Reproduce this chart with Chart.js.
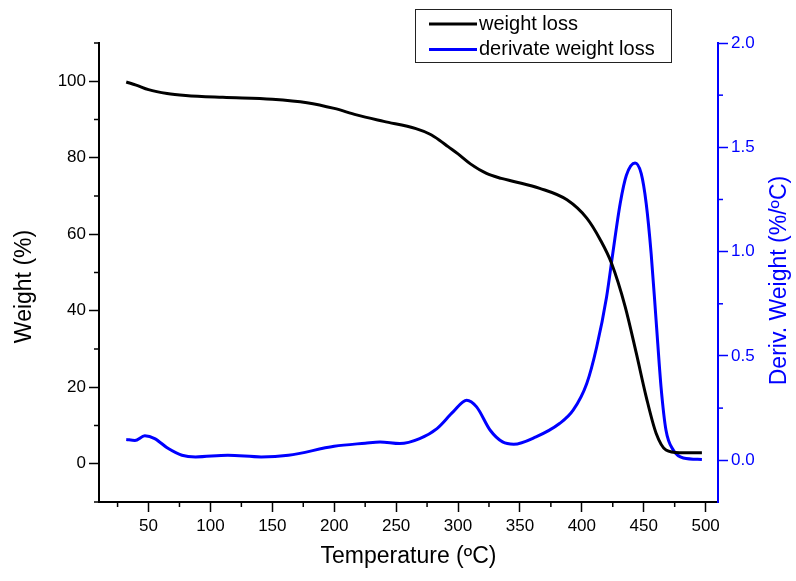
<!DOCTYPE html>
<html>
<head>
<meta charset="utf-8">
<style>
  body { margin: 0; background: #fff; }
  canvas { display: block; }
</style>
</head>
<body>
<canvas id="tgaChart" width="796" height="581"></canvas>
<script src="https://cdn.jsdelivr.net/npm/chart.js"></script>
<script>
    // weight loss curve (black, left axis)
    const tempW = [32, 40, 50, 65, 80, 110, 150, 178, 200, 218, 240, 266, 277, 285, 292, 300, 310, 323, 335, 345, 366, 388, 404, 415, 424, 435, 444, 452, 460, 468, 479, 497];
    const weight = [99.8, 99.0, 97.8, 96.8, 96.3, 95.8, 95.3, 94.4, 92.9, 91.2, 89.5, 87.6, 86.2, 84.6, 82.9, 81.0, 78.4, 75.9, 74.6, 73.8, 72.0, 69.0, 64.2, 58.5, 52.4, 41.1, 28.9, 17.5, 8.0, 3.6, 2.9, 2.9];

    // derivative curve (blue, right axis)
    const tempD = [32, 39, 47, 55, 66, 77, 88, 114, 141, 163, 200, 225, 237, 253, 269, 283, 296, 307, 315, 326, 336, 345, 363, 382, 393, 404, 412, 420, 425, 431, 436, 443, 448, 452, 456, 460, 464, 468, 474, 482, 497];
    const deriv = [0.10, 0.095, 0.117, 0.104, 0.056, 0.024, 0.016, 0.024, 0.016, 0.024, 0.067, 0.082, 0.088, 0.080, 0.104, 0.152, 0.232, 0.288, 0.256, 0.144, 0.088, 0.077, 0.112, 0.176, 0.240, 0.368, 0.543, 0.783, 0.991, 1.231, 1.366, 1.425, 1.374, 1.231, 0.991, 0.671, 0.351, 0.144, 0.048, 0.011, 0.004];

    const xTicks = [50, 100, 150, 200, 250, 300, 350, 400, 450, 500];
    const xMinor = [25, 75, 125, 175, 225, 275, 325, 375, 425, 475];
    const yTicks = [0, 20, 40, 60, 80, 100];
    const yMinor = [-10, 10, 30, 50, 70, 90, 110];
    const y2Ticks = [0, 0.5, 1.0, 1.5, 2.0];
    const y2Minor = [0.25, 0.75, 1.25, 1.75];

    const FONT = "'Liberation Sans', Arial, sans-serif";
    const BLUE = '#0000ff';

    const setTicks = vals => scale => { scale.ticks = vals.map(v => ({ value: v })); };

    // minor ticks + rotated y titles + legend box
    const extras = {
        id: 'extras',
        afterDraw(chart) {
            const c = chart.ctx;
            const a = chart.chartArea;
            const s = chart.scales;
            c.save();
            c.lineWidth = 1.5;
            c.strokeStyle = '#000';
            xMinor.forEach(v => {
                const px = s.x.getPixelForValue(v);
                c.beginPath(); c.moveTo(px, a.bottom); c.lineTo(px, a.bottom + 5); c.stroke();
            });
            yMinor.forEach(v => {
                const py = s.y.getPixelForValue(v);
                c.beginPath(); c.moveTo(a.left, py); c.lineTo(a.left - 5, py); c.stroke();
            });
            c.strokeStyle = BLUE;
            y2Minor.forEach(v => {
                const py = s.y2.getPixelForValue(v);
                c.beginPath(); c.moveTo(a.right, py); c.lineTo(a.right + 5, py); c.stroke();
            });

            // axis titles on the sides, both reading bottom to top
            const cy = (a.top + a.bottom) / 2 + 12;
            c.font = '23px ' + FONT;
            c.textAlign = 'center';
            c.textBaseline = 'middle';
            c.fillStyle = '#000';
            c.save(); c.translate(25, cy + 2); c.rotate(-Math.PI / 2); c.fillText('Weight (%)', 0, 0); c.restore();
            c.fillStyle = BLUE;
            c.save(); c.translate(780, cy - 4); c.rotate(-Math.PI / 2); c.fillText('Deriv. Weight (%/ºC)', 0, 0); c.restore();

            // legend
            c.fillStyle = '#fff';
            c.fillRect(415, 9, 257, 54);
            c.strokeStyle = '#222';
            c.lineWidth = 1;
            c.strokeRect(415.5, 9.5, 256, 53);
            c.font = '20px ' + FONT;
            c.textAlign = 'left';
            chart.data.datasets.forEach((ds, i) => {
                const ly = 24 + i * 25.5;
                c.strokeStyle = ds.borderColor;
                c.lineWidth = 3;
                c.beginPath(); c.moveTo(429, ly); c.lineTo(477, ly); c.stroke();
                c.fillStyle = '#000';
                c.fillText(ds.label, 479, ly);
            });
            c.restore();
        }
    };

    new Chart(document.getElementById('tgaChart'), {
        type: 'line',
        data: {
            datasets: [{
                label: 'weight loss',
                data: tempW.map((t, i) => ({ x: t, y: weight[i] })),
                borderColor: '#000',
                borderWidth: 3,
                pointRadius: 0,
                cubicInterpolationMode: 'monotone',
                yAxisID: 'y'
            }, {
                label: 'derivate weight loss',
                data: tempD.map((t, i) => ({ x: t, y: deriv[i] })),
                borderColor: BLUE,
                borderWidth: 3,
                pointRadius: 0,
                cubicInterpolationMode: 'monotone',
                yAxisID: 'y2'
            }]
        },
        options: {
            responsive: false,
            animation: false,
            layout: { padding: { top: 43, left: 0, right: 0, bottom: 0 } },
            plugins: { legend: { display: false }, tooltip: { enabled: false } },
            scales: {
                x: {
                    type: 'linear',
                    min: 10,
                    max: 510,
                    afterBuildTicks: setTicks(xTicks),
                    afterFit: s => { s.height = 79; },
                    grid: { drawOnChartArea: false, tickLength: 10, tickColor: '#000', tickWidth: 1.5 },
                    border: { color: '#000', width: 2 },
                    ticks: { autoSkip: false, maxRotation: 0, padding: 4, color: '#000', font: { family: FONT, size: 17 } },
                    title: { display: true, text: 'Temperature (ºC)', color: '#000', font: { family: FONT, size: 23 }, padding: { top: 0, bottom: 11 } }
                },
                y: {
                    position: 'left',
                    min: -10,
                    max: 110,
                    afterBuildTicks: setTicks(yTicks),
                    afterFit: s => { s.width = 99; },
                    grid: { drawOnChartArea: false, tickLength: 10, tickColor: '#000', tickWidth: 1.5 },
                    border: { color: '#000', width: 2 },
                    ticks: { autoSkip: false, padding: 3, color: '#000', font: { family: FONT, size: 17 } }
                },
                y2: {
                    position: 'right',
                    min: -0.2,
                    max: 2.0,
                    afterBuildTicks: setTicks(y2Ticks),
                    afterFit: s => { s.width = 78; },
                    grid: { drawOnChartArea: false, tickLength: 10, tickColor: BLUE, tickWidth: 1.5 },
                    border: { color: BLUE, width: 2 },
                    ticks: { autoSkip: false, padding: 3, color: BLUE, font: { family: FONT, size: 17 }, callback: v => v.toFixed(1) }
                }
            }
        },
        plugins: [extras]
    });
</script>
</body>
</html>
